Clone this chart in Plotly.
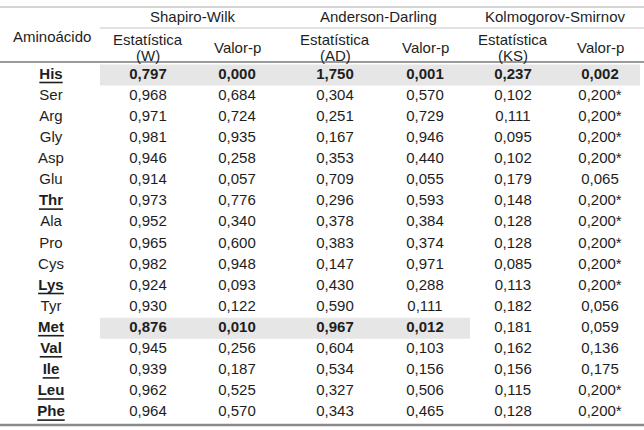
import plotly.graph_objects as go

# Dados da tabela (testes de normalidade por aminoácido)
aminoacidos = ["His", "Ser", "Arg", "Gly", "Asp", "Glu", "Thr", "Ala", "Pro",
               "Cys", "Lys", "Tyr", "Met", "Val", "Ile", "Leu", "Phe"]
essenciais = ["His", "Thr", "Lys", "Met", "Val", "Ile", "Leu", "Phe"]

sw_w = [0.797, 0.968, 0.971, 0.981, 0.946, 0.914, 0.973, 0.952, 0.965,
        0.982, 0.924, 0.930, 0.876, 0.945, 0.939, 0.962, 0.964]
sw_p = [0.000, 0.684, 0.724, 0.935, 0.258, 0.057, 0.776, 0.340, 0.600,
        0.948, 0.093, 0.122, 0.010, 0.256, 0.187, 0.525, 0.570]
ad_a = [1.750, 0.304, 0.251, 0.167, 0.353, 0.709, 0.296, 0.378, 0.383,
        0.147, 0.430, 0.590, 0.967, 0.604, 0.534, 0.327, 0.343]
ad_p = [0.001, 0.570, 0.729, 0.946, 0.440, 0.055, 0.593, 0.384, 0.374,
        0.971, 0.288, 0.111, 0.012, 0.103, 0.156, 0.506, 0.465]
ks_d = [0.237, 0.102, 0.111, 0.095, 0.102, 0.179, 0.148, 0.128, 0.128,
        0.085, 0.113, 0.182, 0.181, 0.162, 0.156, 0.115, 0.128]
ks_p = [0.002, 0.200, 0.200, 0.200, 0.200, 0.065, 0.200, 0.200, 0.200,
        0.200, 0.200, 0.056, 0.059, 0.136, 0.175, 0.200, 0.200]
# * limite inferior da significância verdadeira
ks_limite = [False, True, True, True, True, False, True, True, True,
             True, True, False, False, False, False, True, True]

testes = ["Shapiro-Wilk", "Anderson-Darling", "Kolmogorov-Smirnov"]
rotulos_estat = ["(W)", "(AD)", "(KS)"]
ALFA = 0.05

# layout (pixels)
W, H = 644, 430
X_LABEL = 51
COL_X = [148, 237, 335, 425, 513, 600]
BOUNDS = [100, 286, 470, 640]
Y0, PITCH = 75, 21.1
FONT = "Liberation Sans, Arial, sans-serif"
FS = 15
TXT = "#1e1e1e"
SHADE = "#e6e6e6"

# larguras aproximadas (em em) dos caracteres em Arial negrito, para o sublinhado
BOLD_W = {"H": .722, "i": .278, "s": .556, "T": .611, "h": .611, "r": .389,
          "L": .611, "y": .556, "M": .833, "e": .556, "t": .333, "V": .667,
          "a": .556, "l": .278, "I": .278, "u": .611, "P": .667}


def fmt(v, star=False):
    s = f"{v:.3f}".replace(".", ",")
    return s + ("*" if star else "")


estat = [sw_w, ad_a, ks_d]
pvals = [sw_p, ad_p, ks_p]
row_y = [Y0 + PITCH * i for i in range(len(aminoacidos))]

fig = go.Figure()
shapes = []

# sombreamento das células significativas (p < 0,05)
for i, y in enumerate(row_y):
    for k in range(3):
        if pvals[k][i] < ALFA:
            shapes.append(dict(type="rect", x0=BOUNDS[k], x1=BOUNDS[k + 1],
                               y0=y - PITCH / 2, y1=y + PITCH / 2,
                               fillcolor=SHADE, line_width=0, layer="below"))

# coluna de aminoácidos
lab_txt = []
for a in aminoacidos:
    if a in essenciais:
        lab_txt.append(f"<b>{a}</b>")
    else:
        lab_txt.append(a)
fig.add_trace(go.Scatter(x=[X_LABEL] * len(aminoacidos), y=row_y, mode="text",
                         text=lab_txt, textposition="middle center",
                         textfont=dict(family=FONT, size=FS, color=TXT),
                         hoverinfo="skip"))

# sublinhado dos essenciais
for a, y in zip(aminoacidos, row_y):
    if a in essenciais:
        half = sum(BOLD_W.get(c, .6) for c in a) * FS / 2
        shapes.append(dict(type="line", x0=X_LABEL - half, x1=X_LABEL + half,
                           y0=y + 7.5, y1=y + 7.5,
                           line=dict(color=TXT, width=1.6)))

# valores
for k in range(3):
    for j, serie in enumerate([estat[k], pvals[k]]):
        txt = []
        for i, v in enumerate(serie):
            star = (k == 2 and j == 1 and ks_limite[i])
            s = fmt(v, star)
            if pvals[k][i] < ALFA:
                s = f"<b>{s}</b>"
            txt.append(s)
        fig.add_trace(go.Scatter(x=[COL_X[2 * k + j]] * len(serie), y=row_y,
                                 mode="text", text=txt,
                                 textposition="middle center",
                                 textfont=dict(family=FONT, size=FS, color=TXT),
                                 hoverinfo="skip"))

# cabeçalho
ann = []
hdr = dict(family=FONT, size=FS, color=TXT)
ann.append(dict(x=X_LABEL + 1, y=36, text="Aminoácido"))
for k, t in enumerate(testes):
    ann.append(dict(x=(BOUNDS[k] + BOUNDS[k + 1]) / 2, y=16, text=t))
    ann.append(dict(x=COL_X[2 * k], y=39, text="Estatística"))
    ann.append(dict(x=COL_X[2 * k], y=55, text=rotulos_estat[k]))
    ann.append(dict(x=COL_X[2 * k + 1], y=47, text="Valor-p"))
for a in ann:
    a.update(xref="x", yref="y", showarrow=False, font=hdr,
             xanchor="center", yanchor="middle")

# linhas da tabela
shapes += [
    dict(type="line", x0=0, x1=W, y0=7, y1=7, line=dict(color="#aaaaaa", width=1.2)),
    dict(type="line", x0=BOUNDS[0], x1=W, y0=28, y1=28, line=dict(color="#c4c4c4", width=1.2)),
    dict(type="line", x0=0, x1=W, y0=62, y1=62, line=dict(color="#9a9a9a", width=2)),
    dict(type="line", x0=0, x1=W, y0=425, y1=425, line=dict(color="#8a8a8a", width=2.5)),
]

fig.update_layout(
    width=W, height=H, margin=dict(l=0, r=0, t=0, b=0),
    paper_bgcolor="white", plot_bgcolor="white", showlegend=False,
    xaxis=dict(range=[0, W], visible=False, fixedrange=True),
    yaxis=dict(range=[H, 0], visible=False, fixedrange=True),
    shapes=shapes, annotations=ann,
)

fig.write_html("out.html", config={"displayModeBar": False},
               post_script="document.body.style.margin='0';")
